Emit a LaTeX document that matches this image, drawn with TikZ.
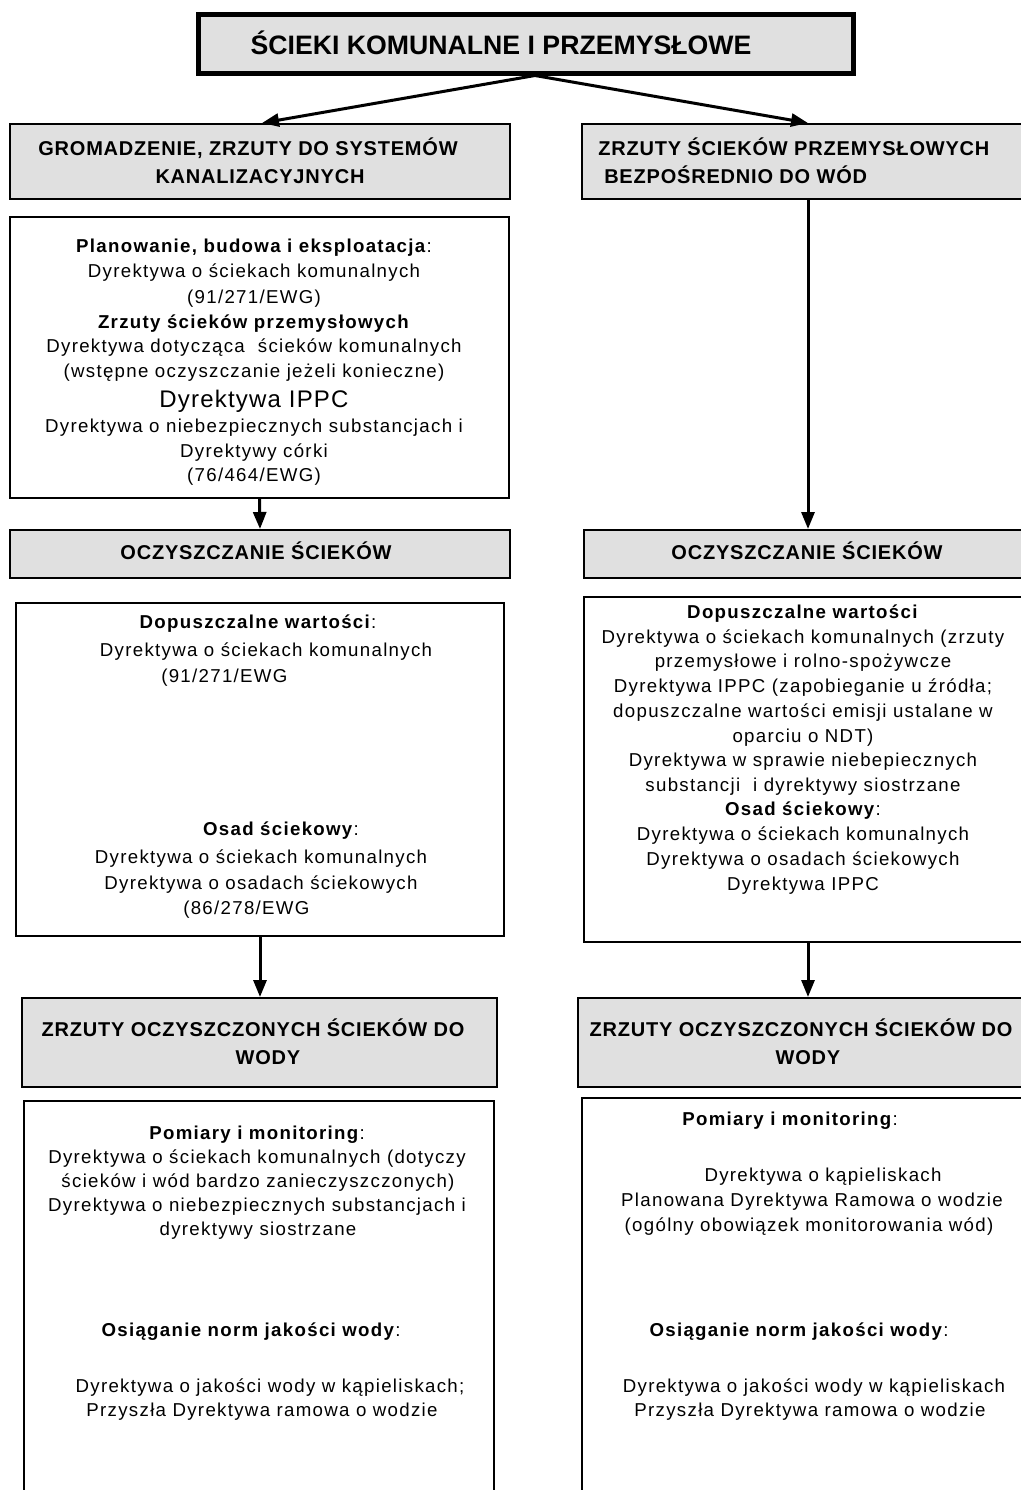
\documentclass[tikz,border=0pt]{standalone}
\usepackage{fontspec}
\setmainfont{Liberation Sans}
\newfontfamily\bodyfont[LetterSpace=7]{Liberation Sans}
\newfontfamily\headfont[LetterSpace=4]{Liberation Sans}
\newfontfamily\bigfont[LetterSpace=5]{Liberation Sans}
\usetikzlibrary{arrows.meta,fit}
\definecolor{boxgray}{RGB}{224,224,224}
\tikzset{
  panel/.style={draw, line width=1.5pt, inner sep=0pt, fit={#1}},
  header/.style={panel={#1}, fill=boxgray},
  titlebox/.style={draw, line width=3.75pt, inner sep=0pt, fill=boxgray, fit={#1}},
  titletext/.style={inner sep=0pt, anchor=base, font=\bfseries\fontsize{20}{24}\selectfont},
  headtext/.style={inner sep=0pt, anchor=base, font=\headfont\bfseries\fontsize{15}{21}\selectfont},
  bodytext/.style={inner sep=0pt, anchor=base, font=\bodyfont\fontsize{14}{18.5}\selectfont},
  bigtext/.style={inner sep=0pt, anchor=base, font=\bigfont\fontsize{18}{22}\selectfont},
  flow/.style={line width=2.25pt, -{Triangle[length=12.75pt,width=9.75pt]}},
}
\begin{document}
\begin{tikzpicture}[x=0.75pt,y=-0.75pt]
\useasboundingbox (0,0) rectangle (1021,1490);

% boxes
\node[titlebox={(198,14) (853,73)}] (title) {};
\node[header={(10,124) (510,199)}] (hdrL) {};
\node[header={(582,124) (1026,199)}] (hdrR) {};
\node[panel={(10,217) (509,498)}] (lawL1) {};
\node[header={(10,530) (510,578)}] (ocL) {};
\node[header={(584,530) (1026,578)}] (ocR) {};
\node[panel={(16,603) (504,936)}] (lawL2) {};
\node[panel={(584,597) (1026,942)}] (lawR2) {};
\node[header={(22,998) (497,1087)}] (outL) {};
\node[header={(578,998) (1026,1087)}] (outR) {};
\node[panel={(24,1101) (494,1500)}] (monL) {};
\node[panel={(582,1098) (1026,1500)}] (monR) {};

% connectors
\coordinate (colR) at (808,0);
\coordinate (apex) at ([xshift=7.1pt]title.south);
\draw[flow] (apex) -- ([xshift=1.5pt]hdrL.north);
\draw[flow] (apex) -- (hdrR.north -| colR);
\draw[flow] (lawL1.south) -- (ocL.north);
\draw[flow] (hdrR.south -| colR) -- (ocR.north -| colR);
\draw[flow] (lawL2.south) -- (outL.north -| lawL2.south);
\draw[flow] (lawR2.south -| colR) -- (outR.north -| colR);

% titles and headers
\node[titletext] (tT) at (501,54) {ŚCIEKI KOMUNALNE I PRZEMYSŁOWE};
\node[headtext] (hL1) at (248,155) {GROMADZENIE, ZRZUTY DO SYSTEMÓW};
\node[headtext] (hL2) at (260,183) {KANALIZACYJNYCH};
\node[headtext, anchor=base west] (hR1) at (598,155) {ZRZUTY ŚCIEKÓW PRZEMYSŁOWYCH};
\node[headtext, anchor=base west] (hR2) at (604,183) {BEZPOŚREDNIO DO WÓD};
\node[headtext] (oL) at (256,559) {OCZYSZCZANIE ŚCIEKÓW};
\node[headtext] (oR) at (807,559) {OCZYSZCZANIE ŚCIEKÓW};
\node[headtext] (zL1) at (253,1036) {ZRZUTY OCZYSZCZONYCH ŚCIEKÓW DO};
\node[headtext] (zL2) at (268,1064) {WODY};
\node[headtext] (zR1) at (801,1036) {ZRZUTY OCZYSZCZONYCH ŚCIEKÓW DO};
\node[headtext] (zR2) at (808,1064) {WODY};

% collection: planning and industrial discharges
\node[bodytext] (a1) at (254,252) {\textbf{Planowanie, budowa i eksploatacja}:};
\node[bodytext] (a2) at (254,277) {Dyrektywa o ściekach komunalnych};
\node[bodytext] (a3) at (254,303) {(91/271/EWG)};
\node[bodytext] (a4) at (254,328) {\textbf{Zrzuty ścieków przemysłowych}};
\node[bodytext] (a5) at (254,352) {Dyrektywa dotycząca~ ścieków komunalnych};
\node[bodytext] (a6) at (254,377) {(wstępne oczyszczanie jeżeli konieczne)};
\node[bigtext]  (a7) at (254,407) {Dyrektywa IPPC};
\node[bodytext] (a8) at (254,432) {Dyrektywa o niebezpiecznych substancjach i};
\node[bodytext] (a9) at (254,457) {Dyrektywy córki};
\node[bodytext] (a10) at (254,481) {(76/464/EWG)};

% treatment, municipal branch
\node[bodytext] (b1) at (258,628) {\textbf{Dopuszczalne wartości}:};
\node[bodytext] (b2) at (266,656) {Dyrektywa o ściekach komunalnych};
\node[bodytext, anchor=base west] (b3) at (161,682) {(91/271/EWG};
\node[bodytext] (b4) at (281,835) {\textbf{Osad ściekowy}:};
\node[bodytext] (b5) at (261,863) {Dyrektywa o ściekach komunalnych};
\node[bodytext] (b6) at (261,889) {Dyrektywa o osadach ściekowych};
\node[bodytext, anchor=base west] (b7) at (183,914) {(86/278/EWG};

% treatment, industrial branch
\node[bodytext] (c1) at (803,618) {\textbf{Dopuszczalne wartości}};
\node[bodytext] (c2) at (803,643) {Dyrektywa o ściekach komunalnych (zrzuty};
\node[bodytext] (c3) at (803,667) {przemysłowe i rolno-spożywcze};
\node[bodytext] (c4) at (803,692) {Dyrektywa IPPC (zapobieganie u źródła;};
\node[bodytext] (c5) at (803,717) {dopuszczalne wartości emisji ustalane w};
\node[bodytext] (c6) at (803,742) {oparciu o NDT)};
\node[bodytext] (c7) at (803,766) {Dyrektywa w sprawie niebepiecznych};
\node[bodytext] (c8) at (803,791) {substancji~ i dyrektywy siostrzane};
\node[bodytext] (c9) at (803,815) {\textbf{Osad ściekowy}:};
\node[bodytext] (c10) at (803,840) {Dyrektywa o ściekach komunalnych};
\node[bodytext] (c11) at (803,865) {Dyrektywa o osadach ściekowych};
\node[bodytext] (c12) at (803,890) {Dyrektywa IPPC};

% discharge, municipal branch
\node[bodytext] (d1) at (257,1139) {\textbf{Pomiary i monitoring}:};
\node[bodytext] (d2) at (257,1163) {Dyrektywa o ściekach komunalnych (dotyczy};
\node[bodytext] (d3) at (258,1187) {ścieków i wód bardzo zanieczyszczonych)};
\node[bodytext] (d4) at (257,1211) {Dyrektywa o niebezpiecznych substancjach i};
\node[bodytext] (d5) at (258,1235) {dyrektywy siostrzane};
\node[bodytext] (d6) at (251,1336) {\textbf{Osiąganie norm jakości wody}:};
\node[bodytext] (d7) at (270,1392) {Dyrektywa o jakości wody w kąpieliskach;};
\node[bodytext] (d8) at (262,1416) {Przyszła Dyrektywa ramowa o wodzie};

% discharge, industrial branch
\node[bodytext] (e1) at (790,1125) {\textbf{Pomiary i monitoring}:};
\node[bodytext] (e2) at (823,1181) {Dyrektywa o kąpieliskach};
\node[bodytext] (e3) at (812,1206) {Planowana Dyrektywa Ramowa o wodzie};
\node[bodytext] (e4) at (809,1231) {(ogólny obowiązek monitorowania wód)};
\node[bodytext] (e5) at (799,1336) {\textbf{Osiąganie norm jakości wody}:};
\node[bodytext] (e6) at (814,1392) {Dyrektywa o jakości wody w kąpieliskach};
\node[bodytext] (e7) at (810,1416) {Przyszła Dyrektywa ramowa o wodzie};
\end{tikzpicture}
\end{document}
